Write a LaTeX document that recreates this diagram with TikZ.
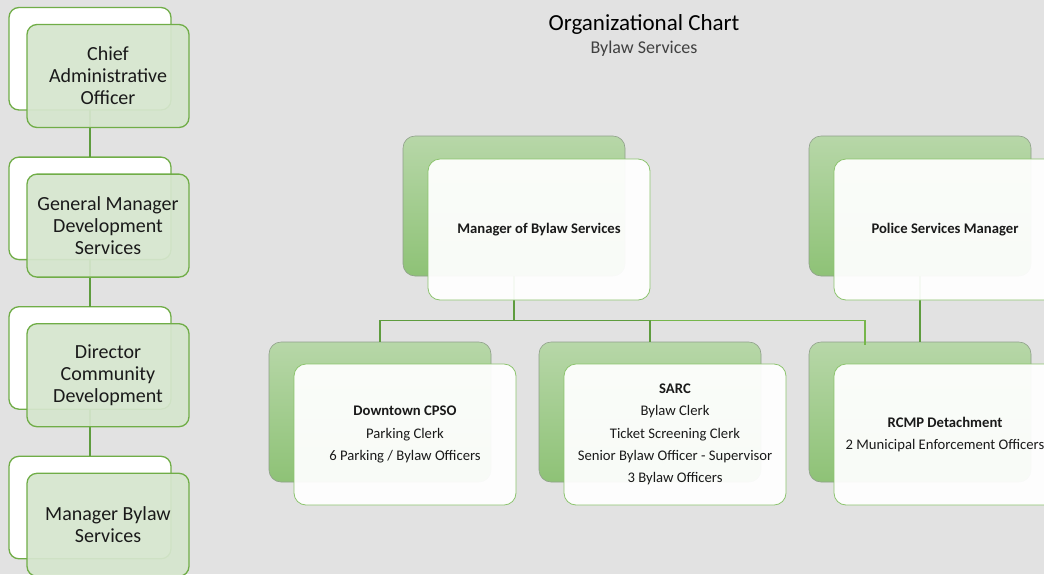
\documentclass[tikz,border=0pt]{standalone}
\usepackage{fontspec}
\setmainfont{Carlito}
\usetikzlibrary{calc}
\definecolor{bg}{HTML}{E2E2E2}
\definecolor{lineg}{HTML}{70AD47}
\definecolor{conng}{HTML}{5E9C3E}
\definecolor{connl}{HTML}{76B64B}
\definecolor{palefill}{HTML}{D6E6CE}
\definecolor{gtop}{HTML}{B7D7A8}
\definecolor{gbot}{HTML}{8EC276}
\definecolor{gedge}{HTML}{8FA08A}
\definecolor{wedge}{HTML}{8CC46E}
\definecolor{ink}{HTML}{1A1A1A}
\definecolor{subink}{HTML}{404040}
\begin{document}
\begin{tikzpicture}[x=1pt,y=-1pt,
  every node/.style={inner sep=0pt, outer sep=0pt},
  levelback/.style={draw=lineg, line width=1.3pt, fill=white, rounded corners=10pt,
    minimum width=162pt, minimum height=102.5pt, anchor=north west},
  levelfront/.style={draw=lineg, line width=1.3pt, fill=palefill, fill opacity=0.93,
    text opacity=1, rounded corners=10pt, minimum width=162pt, minimum height=103pt,
    anchor=north west, align=center, font=\fontsize{20}{22}\selectfont, text=ink},
  unitback/.style={draw=gedge, line width=0.6pt, top color=gtop, bottom color=gbot,
    rounded corners=12pt, minimum width=222pt, minimum height=140pt, anchor=north west},
  unitfront/.style={draw=wedge, line width=0.8pt, fill=white, fill opacity=0.94,
    text opacity=1, rounded corners=12pt, minimum width=222pt, minimum height=141pt,
    anchor=north west, align=center, font=\fontsize{14.67}{22.4}\selectfont, text=ink},
  conn/.style={draw=conng, line width=1.6pt},
  connlight/.style={draw=connl, line width=1.2pt}
]
\useasboundingbox (0,0) rectangle (1044,574);
\fill[bg] (0,0) rectangle (1044,574);
\clip (0,0) rectangle (1044,574);

% titles
\node[anchor=base, font=\fontsize{23}{26}\selectfont, text=black] (title) at (644,30) {Organizational Chart};
\node[anchor=base, font=\fontsize{18}{20}\selectfont, text=subink] (subtitle) at (644,53.3) {Bylaw Services};

% reporting line, left column: back cards
\node[levelback] (cao-b) at (9,7.5) {};
\node[levelback] (gm-b)  at (9,157.1) {};
\node[levelback] (dir-b) at (9,306.7) {};
\node[levelback] (mbs-b) at (9,456.3) {};

% unit cards: back panels
\node[unitback] (mgr-b)  at (403,136) {};
\node[unitback] (pol-b)  at (809,136) {};
\node[unitback] (dt-b)   at (269,342) {};
\node[unitback] (sarc-b) at (539,342) {};
\node[unitback] (rcmp-b) at (809,342) {};

% connectors
\draw[conn] (cao-b.south) -- (gm-b.north);
\draw[conn] (gm-b.south) -- (dir-b.north);
\draw[conn] (dir-b.south) -- (mbs-b.north);

\path (mgr-b.south) ++(0,44.5) coordinate (bus);
\draw[connlight] (bus) -| ($(rcmp-b.north west)+(56,2.5)$);
\draw[conn] (mgr-b.south) -- (bus) -| (dt-b.north);
\draw[conn] (bus) -| (sarc-b.north);
\draw[conn] (pol-b.south) -- (rcmp-b.north);

% left column: front cards
\node[levelfront] (cao) at (27,24.5) {Chief\\Administrative\\Officer};
\node[levelfront] (gm)  at (27,174.1) {General Manager\\Development\\Services};
\node[levelfront] (dir) at (27,323.7) {Director\\Community\\Development};
\node[levelfront] (mbs) at (27,473.3) {Manager Bylaw\\Services};

% unit cards: front panels
\node[unitfront] (mgr)  at (428,159) {\bfseries Manager of Bylaw Services};
\node[unitfront] (pol)  at (834,159) {\bfseries Police Services Manager};
\node[unitfront] (dt)   at (294,364) {{\bfseries Downtown CPSO}\\Parking Clerk\\6 Parking / Bylaw Officers};
\node[unitfront] (sarc) at (564,364) {{\bfseries SARC}\\Bylaw Clerk\\Ticket Screening Clerk\\Senior Bylaw Officer - Supervisor\\3 Bylaw Officers};
\node[unitfront] (rcmp) at (834,364) {{\bfseries RCMP Detachment}\\2 Municipal Enforcement Officers};
\end{tikzpicture}
\end{document}
